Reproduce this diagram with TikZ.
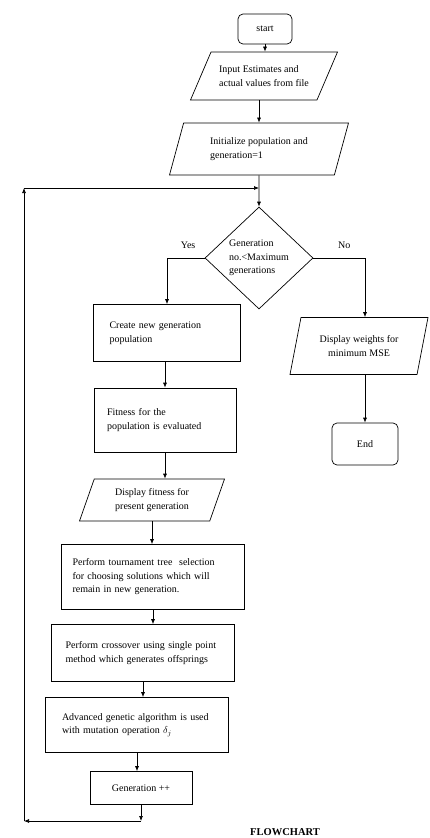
\documentclass[tikz,border=0pt]{standalone}
\usepackage{amsmath}
\usepackage{fontspec}
\setmainfont{Liberation Serif}
\usetikzlibrary{positioning,shapes.geometric,arrows.meta}

\begin{document}
\begin{tikzpicture}[x=1pt, y=-1pt, line width=0.7pt, >={Latex[length=5pt,width=4pt]},
                    font=\fontsize{10}{13.5}\selectfont,
                    term node/.style={draw, rounded corners=5pt},
                    proc node/.style={draw, align=left, inner ysep=0pt},
                    io node/.style={draw, trapezium, trapezium stretches body, align=left, inner ysep=0pt},
                    dec node/.style={draw, diamond, align=left, inner sep=0pt}]

  \useasboundingbox (0,0) rectangle (429,838);

  \node[term node, minimum width=54, minimum height=30] (start) at (265,29) {start};
  \node[io node, trapezium left angle=45, trapezium right angle=135,
        minimum width=147, minimum height=48] (input) at (264,76) {Input Estimates and\\actual values from file};
  \node[io node, trapezium left angle=58, trapezium right angle=122,
        minimum width=179, minimum height=52] (init) at (259,149) {Initialize population and\\generation=1};
  \node[dec node, minimum width=108, minimum height=102] (dec) at (259,258) {Generation\\no.<Maximum\\generations};

  \node[proc node, text width=115, inner xsep=16, minimum height=57] (create) at (167,333) {Create new generation\\population};
  \node[proc node, text width=116, inner xsep=13, minimum height=64] (fitness) at (165,420) {Fitness for the\\population is evaluated};
  \node[io node, align=center, trapezium left angle=57, trapezium right angle=123,
        minimum width=145, minimum height=42] (dispfit) at (152,500) {Display fitness for\\present generation};
  \node[proc node, text width=161, inner xsep=11, minimum height=65] (tour) at (153,577) {Perform tournament tree\ \ selection\\for choosing solutions which will\\remain in new generation.};
  \node[proc node, text width=155, inner xsep=14, minimum height=57] (cross) at (143,653) {Perform crossover using single point\\method which generates offsprings};
  \node[proc node, text width=150, inner xsep=16.5, minimum height=55] (adv) at (137,725) {Advanced genetic algorithm is used\\with mutation operation $\delta_j$};
  \node[proc node, align=center, minimum width=102, minimum height=33] (gen) at (141,788) {Generation ++};

  \node[io node, align=center, trapezium left angle=62, trapezium right angle=118,
        minimum width=138, minimum height=57] (dispw) at (359,346) {Display weights for\\minimum MSE};
  \node[term node, minimum width=66, minimum height=42] (end) at (365,444) {End};

  \node[font=\bfseries\fontsize{10.5}{12}\selectfont] (caption) at (285,832) {FLOWCHART};

  \coordinate (looptop) at (24,188);
  \coordinate (loopbot) at (24,821);
  \coordinate (join) at (init.south |- looptop);
  \coordinate (genfoot) at (gen.south |- loopbot);

  \path[->]
    (start) edge (start.south |- input.north)
    (input.south -| init.north) edge (init.north)
    (init.south) edge (dec.north)
    (looptop) edge (join)
    (loopbot) edge (looptop)
    (genfoot) edge (loopbot)
    (gen.south) edge (genfoot)
    (fitness.north |- create.south) edge (fitness.north)
    (fitness.south) edge (fitness.south |- dispfit.north)
    (dispfit.south) edge (dispfit.south |- tour.north)
    (tour.south) edge (tour.south |- cross.north)
    (cross.south) edge (cross.south |- adv.north)
    (adv.south) edge (adv.south |- gen.north)
    (end.north |- dispw.south) edge (end.north);

  \draw[->] (dec.west) -| node[pos=0.22, above=6pt] {Yes} (create.north);
  \draw[->] (dec.east) -| node[pos=0.3, above=6pt] {No} (dispw.north -| end.north);
\end{tikzpicture}
\end{document}
